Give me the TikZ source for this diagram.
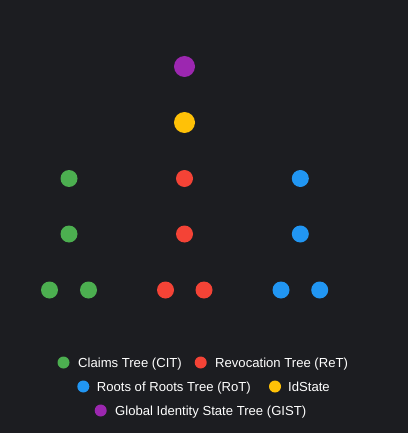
\documentclass[tikz,border=0pt]{standalone}
\usepackage{fontspec}
\setmainfont{Liberation Sans}
\definecolor{bg}{HTML}{1C1D21}
\definecolor{cgreen}{HTML}{4CAF50}
\definecolor{cred}{HTML}{F44336}
\definecolor{cblue}{HTML}{2196F3}
\definecolor{cyellow}{HTML}{FFC107}
\definecolor{cpurple}{HTML}{9C27B0}
\begin{document}
\begin{tikzpicture}[x=1pt,y=-1pt,
  big/.style={circle,inner sep=0pt,minimum size=21pt,fill=#1},
  leaf/.style={circle,inner sep=0pt,minimum size=17pt,fill=#1},
  ldot/.style={circle,inner sep=0pt,minimum size=12pt,fill=#1},
  ltext/.style={anchor=base west,inner sep=0pt,text=white,font=\fontsize{13.1}{15}\selectfont}]
\fill[bg] (0,0) rectangle (408,433);
\useasboundingbox (0,0) rectangle (408,433);
% top
\node[big=cpurple] (gist) at (184.5,66.5) {};
\node[big=cyellow] (ids) at (184.5,122.5) {};
% green
\node[leaf=cgreen] (g1) at (69,178.5) {};
\node[leaf=cgreen] (g2) at (69,234) {};
\node[leaf=cgreen] (g3) at (49.5,290) {};
\node[leaf=cgreen] (g4) at (88.5,290) {};
% red
\node[leaf=cred] (r1) at (184.5,178.5) {};
\node[leaf=cred] (r2) at (184.5,234) {};
\node[leaf=cred] (r3) at (165.5,290) {};
\node[leaf=cred] (r4) at (204,290) {};
% blue
\node[leaf=cblue] (b1) at (300.3,178.5) {};
\node[leaf=cblue] (b2) at (300.3,234) {};
\node[leaf=cblue] (b3) at (281,290) {};
\node[leaf=cblue] (b4) at (319.7,290) {};
% legend
\node[ldot=cgreen] (lg) at (63.5,362.5) {};
\node[ltext] (tg) at (78,367.2) {Claims Tree (CIT)};
\node[ldot=cred] (lr) at (200.7,362.5) {};
\node[ltext] (tr) at (215,367.2) {Revocation Tree (ReT)};
\node[ldot=cblue] (lb) at (83.3,386.5) {};
\node[ltext] (tb) at (96.7,391.2) {Roots of Roots Tree (RoT)};
\node[ldot=cyellow] (ly) at (275,386.5) {};
\node[ltext] (ty) at (288,391.2) {IdState};
\node[ldot=cpurple] (lp) at (100.7,410.5) {};
\node[ltext] (tp) at (115,415.2) {Global Identity State Tree (GIST)};
\end{tikzpicture}
\end{document}
